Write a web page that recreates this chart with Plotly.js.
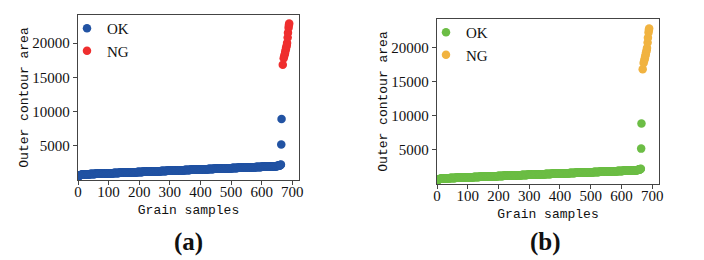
<!DOCTYPE html>
<html>
<head>
<meta charset="utf-8">
<script src="https://cdn.plot.ly/plotly-3.0.1.min.js"></script>
<style>html,body{margin:0;padding:0;background:#fff;}#chart{width:704px;height:260px;}</style>
</head>
<body>
<div id="chart"></div>
<script>
// Outer contour area of OK grains, sorted ascending (sample index = position in list)
const okArea = [
480,545,590,625,650,672,690,706,720,733,745,756,766,775,784,792,799,806,812,818,
824,826,828,829,832,834,836,838,839,841,843,846,848,849,851,853,855,857,858,860,
862,863,865,868,870,872,873,875,877,879,882,883,885,887,889,890,893,895,897,898,
900,902,904,905,908,910,912,914,915,917,919,922,924,925,927,929,931,933,934,936,
938,939,941,944,946,948,949,951,953,955,958,959,961,963,965,966,969,971,973,974,
975,977,979,980,983,985,987,989,990,992,994,997,999,1000,1002,1004,1006,1008,1009,1011,
1013,1014,1016,1019,1021,1023,1024,1026,1028,1030,1033,1034,1036,1038,1040,1041,1044,1046,1048,1049,
1051,1053,1055,1056,1059,1061,1063,1065,1066,1068,1070,1073,1075,1076,1078,1080,1082,1084,1085,1087,
1089,1090,1092,1095,1097,1099,1100,1102,1104,1106,1109,1110,1112,1114,1116,1117,1120,1122,1124,1125,
1126,1128,1130,1131,1134,1136,1138,1140,1141,1143,1145,1148,1150,1151,1153,1155,1157,1159,1160,1162,
1164,1165,1167,1170,1172,1174,1175,1177,1179,1181,1184,1185,1187,1189,1191,1192,1195,1197,1199,1200,
1202,1204,1206,1207,1210,1212,1214,1216,1217,1219,1221,1224,1226,1227,1229,1231,1233,1235,1236,1238,
1240,1241,1243,1246,1248,1250,1251,1253,1255,1257,1260,1261,1263,1265,1267,1268,1271,1273,1275,1276,
1277,1279,1281,1282,1285,1287,1289,1291,1292,1294,1296,1299,1301,1302,1304,1306,1308,1310,1311,1313,
1315,1316,1318,1321,1323,1325,1326,1328,1330,1332,1335,1336,1338,1340,1342,1343,1346,1348,1350,1351,
1353,1355,1357,1358,1361,1363,1365,1367,1368,1370,1372,1375,1377,1378,1380,1382,1384,1386,1387,1389,
1391,1392,1394,1397,1399,1401,1402,1404,1406,1408,1411,1412,1414,1416,1418,1419,1422,1424,1426,1427,
1428,1430,1432,1433,1436,1438,1440,1442,1443,1445,1447,1450,1452,1453,1455,1457,1459,1461,1462,1464,
1466,1467,1469,1472,1474,1476,1477,1479,1481,1483,1486,1487,1489,1491,1493,1494,1497,1499,1501,1502,
1504,1506,1508,1509,1512,1514,1516,1518,1519,1521,1523,1526,1528,1529,1531,1533,1535,1537,1538,1540,
1542,1543,1545,1548,1550,1552,1553,1555,1557,1559,1562,1563,1565,1567,1569,1570,1573,1575,1577,1578,
1579,1581,1583,1584,1587,1589,1591,1593,1594,1596,1598,1601,1603,1604,1606,1608,1610,1612,1613,1615,
1617,1618,1620,1623,1625,1627,1628,1630,1632,1634,1637,1638,1640,1642,1644,1645,1648,1650,1652,1653,
1655,1657,1659,1660,1663,1665,1667,1669,1670,1672,1674,1677,1679,1680,1682,1684,1686,1688,1689,1691,
1693,1694,1696,1699,1701,1703,1704,1706,1708,1710,1713,1714,1716,1718,1720,1721,1724,1726,1728,1729,
1730,1732,1734,1735,1738,1740,1742,1744,1745,1747,1749,1752,1754,1755,1757,1759,1761,1763,1764,1766,
1768,1769,1771,1774,1776,1778,1779,1781,1783,1785,1788,1789,1791,1793,1795,1796,1799,1801,1803,1804,
1806,1808,1810,1811,1814,1816,1818,1820,1821,1823,1825,1828,1830,1831,1833,1835,1837,1839,1840,1842,
1844,1845,1847,1850,1852,1854,1855,1857,1859,1861,1864,1865,1867,1869,1871,1872,1875,1877,1879,1880,
1881,1883,1885,1886,1889,1891,1893,1895,1896,1898,1900,1903,1905,1906,1908,1910,1912,1914,1915,1917,
1919,1920,1922,1925,1927,1929,1930,1932,1934,1936,1939,1940,1942,1944,1946,1947,1950,1952,1954,1955,
1957,1959,1961,1962,1965,1967,1969,1971,1972,1974,1976,1979,1981,1982,1984,1986,1988,1990,1991,1993,
1996,1999,2002,2005,2009,2013,2017,2022,2027,2033,2039,2046,2054,2062,2071,2081,2092,2104,2118,2134,
2152,2175,2205,2250,
5200,8900
];
// NG grains: sample index and outer contour area
const ngSample = [669,672,674,676,677,679,680,682,683,685,686,688,689,690];
const ngArea = [16850,17800,18150,18450,18750,19050,19350,19650,20000,20800,21500,22250,22650,22850];

const xTicks = [0,100,200,300,400,500,600,700];
const yTicks = [5000,10000,15000,20000];
const yTickText = ['5000','10000','15000','20000'];
const seriesNames = ['OK','NG'];
const panelLabels = ['(a)','(b)'];
const colorsA = ['#2253a3','#ef2e2e'];
const colorsB = ['#6cbd45','#f1b340'];

const okSample = okArea.map((_, i) => i);

const W = 704, H = 260;
const serif = 'Liberation Serif, Times New Roman, serif';
const tickFont = {family: serif, size: 15, color: '#111'};
const titleFont = {family: 'Liberation Mono, DejaVu Sans Mono, monospace', size: 13, color: '#111'};

function trace(x, y, name, color, xa, ya, legend) {
  return {type: 'scatter', mode: 'markers', x: x, y: y, name: name,
    xaxis: xa, yaxis: ya, legend: legend,
    marker: {color: color, size: 8.5, line: {width: 0}}, hoverinfo: 'skip'};
}

const data = [
  trace(okSample, okArea, seriesNames[0], colorsA[0], 'x', 'y', 'legend'),
  trace(ngSample, ngArea, seriesNames[1], colorsA[1], 'x', 'y', 'legend'),
  trace(okSample, okArea, seriesNames[0], colorsB[0], 'x2', 'y2', 'legend2'),
  trace(ngSample, ngArea, seriesNames[1], colorsB[1], 'x2', 'y2', 'legend2')
];

function xax(dom, anchor) {
  return {domain: dom, anchor: anchor, range: [0, 722], tickvals: xTicks, tickformat: 'd',
    showgrid: false, zeroline: false, showline: true, mirror: true, linecolor: '#444', linewidth: 1.3,
    ticks: 'outside', ticklen: 4, tickcolor: '#444', tickfont: tickFont, ticklabelstandoff: -6,
    title: {text: 'Grain samples', font: titleFont, standoff: 5}};
}
function yax(dom, anchor, top) {
  return {domain: dom, anchor: anchor, range: [0, top], tickvals: yTicks, ticktext: yTickText,
    showgrid: false, zeroline: false, showline: true, mirror: true, linecolor: '#444', linewidth: 1.3,
    ticks: 'outside', ticklen: 4, tickcolor: '#444', tickfont: tickFont,
    title: {text: 'Outer contour area', font: titleFont, standoff: 0}};
}

const legendCommon = {bgcolor: 'rgba(0,0,0,0)', borderwidth: 0, font: {family: serif, size: 15, color: '#111'},
  xanchor: 'left', yanchor: 'top', itemwidth: 30, tracegroupgap: 0};

const layout = {
  width: W, height: H,
  margin: {l: 0, r: 0, t: 0, b: 0},
  paper_bgcolor: '#fff', plot_bgcolor: '#fff',
  showlegend: true,
  xaxis: xax([78/W, 299/W], 'y'),
  yaxis: yax([(H-180)/H, (H-15)/H], 'x', 24100),
  xaxis2: xax([437/W, 659/W], 'y2'),
  yaxis2: yax([(H-184)/H, (H-19)/H], 'x2', 24250),
  legend: Object.assign({}, legendCommon, {x: 67/W, y: (H-12)/H}),
  legend2: Object.assign({}, legendCommon, {x: 426/W, y: (H-16)/H}),
  annotations: [
    {text: '<b>' + panelLabels[0] + '</b>', xref: 'paper', yref: 'paper', x: 188/W, y: (H-242)/H,
     xanchor: 'center', yanchor: 'middle', showarrow: false,
     font: {family: serif, size: 25, color: '#111'}},
    {text: '<b>' + panelLabels[1] + '</b>', xref: 'paper', yref: 'paper', x: 545/W, y: (H-242)/H,
     xanchor: 'center', yanchor: 'middle', showarrow: false,
     font: {family: serif, size: 25, color: '#111'}}
  ]
};

Plotly.newPlot('chart', data, layout, {staticPlot: true, displayModeBar: false});
</script>
</body>
</html>
